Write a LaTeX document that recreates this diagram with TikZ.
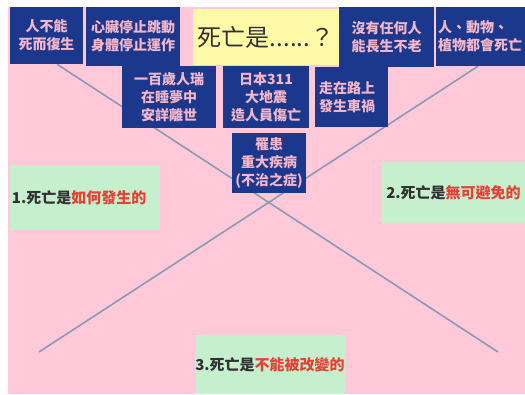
\documentclass[tikz,border=0pt]{standalone}
\usepackage{fontspec}
\setmainfont{Noto Sans CJK TC}
\usepackage{tikz}

\definecolor{paperpink}{RGB}{255,201,217}
\definecolor{boxblue}{RGB}{28,56,140}
\definecolor{boxtext}{RGB}{243,182,202}
\definecolor{titleyellow}{RGB}{255,250,168}
\definecolor{labelgreen}{RGB}{198,239,206}
\definecolor{keyred}{RGB}{232,62,52}
\definecolor{darktext}{RGB}{50,50,50}
\definecolor{crossgray}{RGB}{138,154,178}

\pgfdeclarelayer{paper}
\pgfdeclarelayer{lines}
\pgfsetlayers{paper,lines,main}

\begin{document}
\begin{tikzpicture}[x=1pt, y=-1pt,
    example/.style ={fill=boxblue, text=boxtext, inner sep=0pt, align=center,
                     font=\fontsize{14}{18}\selectfont\bfseries},
    question/.style ={fill=titleyellow, text=darktext, inner sep=0pt,
                      font=\fontsize{24}{28}\selectfont},
    answer/.style ={fill=labelgreen, text=darktext, inner sep=0pt,
                    font=\fontsize{15}{18}\selectfont\bfseries},
    crossline/.style ={draw=crossgray, line width=1.6pt}]
   \useasboundingbox (0,0) rectangle (525,394);
   \begin{pgfonlayer}{paper}
     \fill[paperpink] (8,7) rectangle (525,394);
   \end{pgfonlayer}
   % top row
   \node[example, minimum width=73pt, minimum height=57pt] (revive) at (46.5,35.5) {人不能\\死而復生};
   \node[example, minimum width=94pt, minimum height=59pt] (heart) at (133,36.5) {心臟停止跳動\\身體停止運作};
   \node[question, minimum width=146pt, minimum height=56pt] (title) at (266,37) {死亡是......？};
   \node[example, minimum width=95pt, minimum height=60pt] (ageless) at (386.5,37) {沒有任何人\\能長生不老};
   \node[example, minimum width=89pt, minimum height=59pt, text width=85pt, align=left] (alldie) at (480.5,36.5) {人、動物、\\植物都會死亡};
   % second row
   \node[example, minimum width=94pt, minimum height=62pt] (oldage) at (169,97) {一百歲人瑞\\在睡夢中\\安詳離世};
   \node[example, minimum width=86pt, minimum height=62pt] (quake) at (266,97) {日本311\\大地震\\造人員傷亡};
   \node[example, minimum width=73pt, minimum height=60pt, text width=65pt, align=left] (accident) at (351.5,97) {走在路上\\發生車禍};
   \node[example, minimum width=74pt, minimum height=60pt] (disease) at (269,163) {罹患\\重大疾病\\(不治之症)};
   % the three answers
   \node[answer, minimum width=150pt, minimum height=65pt, text width=146pt, align=left] (how) at (85,197.5) {1.死亡是\textcolor{keyred}{如何發生的}};
   \node[answer, minimum width=143pt, minimum height=61pt] (unavoid) at (453.5,192.5) {2.死亡是\textcolor{keyred}{無可避免的}};
   \node[answer, minimum width=150pt, minimum height=59pt] (unchange) at (270,364.5) {3.死亡是\textcolor{keyred}{不能被改變的}};
   % the cross
   \coordinate (endR) at (498,352);
   \coordinate (endL) at (39,352);
   \begin{pgfonlayer}{lines}
     \draw[crossline] ([xshift=10.5pt]revive.south) to (endR);
     \draw[crossline] ([xshift=-2.5pt]alldie.south) to (endL);
   \end{pgfonlayer}
\end{tikzpicture}
\end{document}
